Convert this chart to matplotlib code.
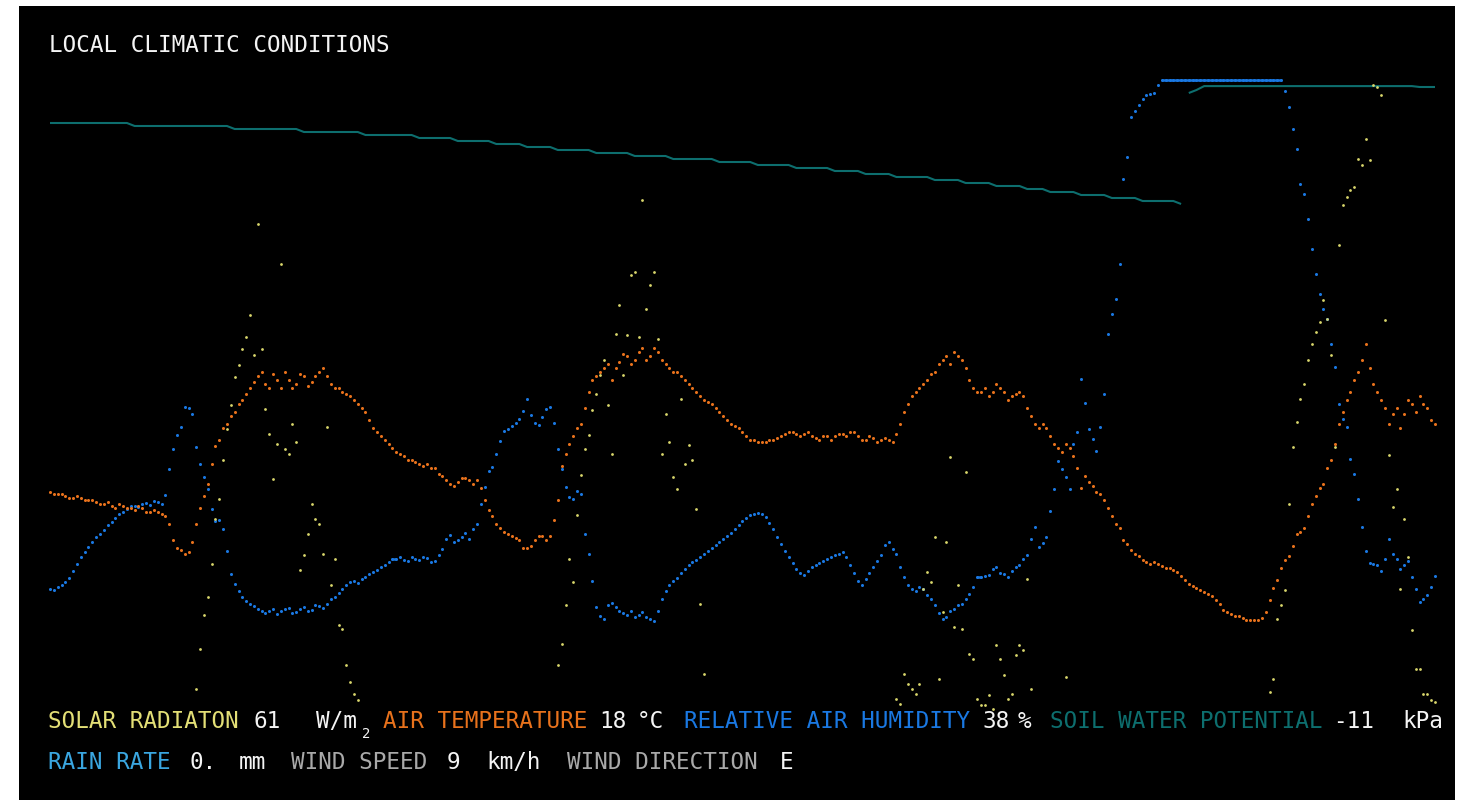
import numpy as np
import matplotlib
matplotlib.use("Agg")
import matplotlib.pyplot as plt
from matplotlib.collections import LineCollection

# Quarter-hourly weather-station samples (hours since start of the log)
hours = np.arange(361) * 0.25
# Soil probe logs every half hour
soil_hours = np.arange(181) * 0.5

# Solar radiation, W/m2 (0 at night)
solar_radiation = [
    0, 0, 0, 0, 0, 0, 0, 0, 0, 0,
    0, 0, 0, 0, 0, 0, 0, 0, 0, 0,
    0, 0, 0, 0, 0, 0, 0, 0, 0, 0,
    0, 0, 0, 0, 0, 0, 0, 0,
    # day 1
    69, 93, 113, 124, 144, 171, 183, 206, 225, 239,
    256, 263, 273, 280, 293, 269, 348, 273, 237, 222,
    195, 216, 324, 213, 210, 228, 217, 140, 149, 162,
    180, 171, 168, 150, 226, 131, 147, 107, 105, 83,
    73, 66, 62,
    # night
    0, 0, 0, 0, 0, 0, 0, 0, 0, 0,
    0, 0, 0, 0, 0, 0, 0, 0, 0, 0,
    0, 0, 0, 0, 0, 0, 0, 0, 0, 0,
    0, 0, 0, 0, 0, 0, 0, 0, 0, 0,
    0, 0, 0, 0, 0, 0, 0, 0, 0, 0,
    0,
    # day 2
    83, 96, 119, 147, 133, 173, 197, 213, 221, 236,
    246, 257, 266, 239, 210, 282, 299, 257, 281, 317,
    319, 280, 362, 297, 311, 319, 279, 210, 234, 217,
    196, 189, 243, 204, 215, 206, 177, 120, 78,
    # night
    0, 0, 0, 0, 0, 0, 0, 0, 0, 0,
    0, 0, 0, 0, 0, 0, 0, 0, 0, 0,
    0, 0, 0, 0, 0, 0, 0, 0, 0, 0,
    0, 0, 0, 0, 0, 0, 0, 0, 0, 0,
    0, 0, 0, 0, 0, 0, 0, 0, 0,
    # day 3 (overcast)
    63, 60, 78, 72, 69, 66, 72, 129, 139, 133,
    160, 75, 115, 157, 208, 106, 131, 105, 199, 90,
    87, 63, 59, 59, 65, 57, 95, 87, 77, 63,
    66, 89, 95, 92, 135, 69,
    0, 0, 0, 0, 0, 0, 0, 0,
    76,
    # night
    0, 0, 0, 0, 0, 0, 0, 0, 0, 0,
    0, 0, 0, 0, 0, 0, 0, 0, 0, 0,
    0, 0, 0, 0, 0, 0, 0, 0, 0, 0,
    0, 0, 0, 0, 0, 0, 0, 0, 0, 0,
    0, 0, 0, 0, 0, 0, 0, 0, 0, 0,
    0, 0,
    # day 4
    67, 75, 111, 119, 128, 180, 214, 229, 243, 252,
    266, 276, 283, 289, 302, 291, 269, 214, 335, 359,
    364, 368, 370, 387, 383, 399, 386, 431, 430, 425,
    290, 209, 178, 189, 129, 171, 148, 104, 81, 81,
    66, 66, 62, 61,
]

# Air temperature, degC
air_temperature = [
    14.6, 14.5, 14.5, 14.5, 14.4, 14.3, 14.3, 14.4, 14.3, 14.2,
    14.2, 14.2, 14.1, 14.0, 14.0, 14.1, 13.9, 13.8, 14.0, 13.9,
    13.8, 13.8, 13.7, 13.9, 13.8, 13.6, 13.6, 13.7, 13.6, 13.5,
    13.4, 13.0, 12.2, 11.8, 11.7, 11.5, 11.6, 12.1, 13.0, 13.8,
    14.4, 15.0, 16.0, 16.9, 17.2, 17.8, 18.0, 18.4, 18.6, 19.0,
    19.2, 19.5, 19.8, 20.1, 20.4, 20.6, 20.0, 19.8, 20.5, 20.2,
    19.8, 20.6, 20.2, 19.8, 20.0, 20.5, 20.4, 19.9, 20.1, 20.4,
    20.6, 20.8, 20.4, 20.0, 19.8, 19.8, 19.6, 19.5, 19.4, 19.2,
    19.0, 18.8, 18.6, 18.2, 17.8, 17.6, 17.4, 17.2, 17.0, 16.8,
    16.6, 16.5, 16.4, 16.2, 16.2, 16.1, 16.0, 15.9, 16.0, 15.8,
    15.8, 15.5, 15.4, 15.2, 15.0, 14.9, 15.1, 15.3, 15.3, 15.2,
    15.0, 15.2, 14.8, 14.2, 13.7, 13.4, 13.0, 12.8, 12.6, 12.5,
    12.4, 12.3, 12.2, 11.8, 11.8, 11.9, 12.2, 12.4, 12.4, 12.2,
    12.4, 13.2, 14.2, 15.9, 16.5, 17.0, 17.4, 17.8, 18.0, 18.8,
    19.6, 20.2, 20.4, 20.6, 20.8, 21.0, 20.2, 20.8, 21.1, 21.5,
    21.4, 21.0, 21.2, 21.6, 21.8, 21.2, 21.4, 21.8, 21.6, 21.2,
    21.0, 20.8, 20.6, 20.6, 20.4, 20.2, 20.0, 19.8, 19.6, 19.4,
    19.2, 19.1, 19.0, 18.8, 18.6, 18.4, 18.2, 18.0, 17.9, 17.8,
    17.6, 17.4, 17.2, 17.2, 17.1, 17.1, 17.1, 17.2, 17.2, 17.3,
    17.4, 17.5, 17.6, 17.6, 17.5, 17.4, 17.5, 17.6, 17.4, 17.3,
    17.2, 17.4, 17.4, 17.2, 17.4, 17.5, 17.5, 17.4, 17.6, 17.6,
    17.4, 17.2, 17.2, 17.4, 17.3, 17.1, 17.2, 17.3, 17.2, 17.1,
    17.5, 18.0, 18.6, 19.0, 19.4, 19.6, 19.8, 20.0, 20.2, 20.5,
    20.6, 21.0, 21.2, 21.4, 21.0, 21.6, 21.4, 21.2, 20.8, 20.2,
    19.8, 19.6, 19.6, 19.8, 19.4, 19.6, 20.0, 19.8, 19.6, 19.2,
    19.4, 19.5, 19.6, 19.4, 18.8, 18.4, 18.0, 17.8, 18.0, 17.8,
    17.4, 17.0, 16.8, 16.6, 17.0, 16.8, 16.4, 15.8, 14.8, 15.4,
    15.1, 14.9, 14.6, 14.5, 14.2, 13.8, 13.4, 13.0, 12.8, 12.2,
    12.0, 11.7, 11.5, 11.4, 11.2, 11.1, 11.0, 11.1, 11.0, 10.9,
    10.8, 10.8, 10.7, 10.6, 10.4, 10.2, 10.0, 9.9, 9.8, 9.7,
    9.6, 9.5, 9.4, 9.2, 9.0, 8.7, 8.6, 8.5, 8.4, 8.4,
    8.3, 8.2, 8.2, 8.2, 8.2, 8.3, 8.6, 9.2, 9.8, 10.2,
    10.8, 11.2, 11.4, 11.9, 12.5, 12.6, 12.8, 13.4, 14.0, 14.4,
    14.8, 15.0, 15.8, 16.2, 17.0, 18.0, 18.6, 19.2, 19.6, 20.2,
    20.6, 21.2, 22.0, 20.8, 20.0, 19.6, 19.2, 18.8, 18.0, 18.5,
    18.8, 17.8, 18.5, 19.2, 19.0, 18.6, 19.4, 19.0, 18.8, 18.2,
    18.0,
]

# Relative air humidity, %
relative_humidity = [
    36.4, 36.2, 36.6, 36.9, 37.2, 37.8, 38.6, 39.5, 40.4, 41.0,
    41.6, 42.3, 42.9, 43.2, 43.8, 44.4, 44.8, 45.2, 45.8, 46.0,
    46.4, 46.7, 46.8, 46.6, 47.0, 47.1, 46.9, 47.4, 47.2, 47.0,
    48.1, 51.4, 53.9, 55.6, 56.6, 59.1, 59.0, 58.2, 54.1, 52.0,
    50.4, 48.9, 46.4, 44.9, 45.0, 43.9, 41.1, 38.2, 37.0, 36.1,
    35.4, 34.9, 34.5, 34.2, 33.9, 33.6, 33.4, 33.6, 33.9, 33.2,
    33.6, 33.9, 34.0, 33.4, 33.5, 33.9, 34.1, 33.6, 33.8, 34.4,
    34.2, 34.0, 34.5, 35.1, 35.4, 35.9, 36.4, 36.9, 37.2, 37.4,
    37.1, 37.6, 37.9, 38.2, 38.5, 38.8, 39.1, 39.4, 39.8, 40.1,
    40.1, 40.4, 40.0, 39.9, 40.4, 40.1, 40.0, 40.4, 40.2, 39.8,
    39.9, 40.6, 41.4, 42.6, 43.1, 42.2, 42.5, 42.9, 43.4, 42.6,
    43.9, 44.5, 47.0, 49.1, 51.1, 51.6, 53.2, 54.9, 56.1, 56.4,
    56.8, 57.1, 57.6, 58.6, 60.1, 58.1, 57.1, 56.9, 57.9, 58.9,
    59.1, 57.1, 53.9, 51.4, 49.1, 47.9, 47.6, 48.6, 48.2, 43.2,
    40.8, 37.4, 34.1, 33.0, 32.6, 34.4, 34.6, 34.1, 33.6, 33.4,
    33.1, 33.6, 32.9, 33.1, 33.5, 32.9, 32.6, 32.4, 33.6, 35.1,
    36.1, 36.9, 37.4, 37.8, 38.4, 38.9, 39.4, 39.8, 40.0, 40.4,
    40.8, 41.1, 41.5, 41.9, 42.2, 42.6, 43.0, 43.4, 43.9, 44.4,
    44.9, 45.2, 45.6, 45.8, 45.9, 45.8, 45.4, 44.6, 43.9, 42.9,
    42.0, 41.1, 40.4, 39.6, 38.9, 38.4, 38.1, 38.6, 39.1, 39.4,
    39.6, 39.9, 40.1, 40.4, 40.6, 40.8, 41.0, 40.4, 39.4, 38.4,
    37.4, 36.9, 37.6, 38.4, 39.1, 39.9, 40.6, 41.9, 42.2, 41.4,
    40.8, 39.1, 37.9, 36.9, 36.4, 36.1, 36.6, 36.4, 35.6, 35.1,
    34.4, 33.4, 32.6, 32.9, 33.6, 33.9, 34.4, 34.5, 35.1, 35.8,
    36.6, 37.9, 37.9, 38.0, 38.1, 38.9, 39.1, 38.4, 38.2, 37.9,
    38.6, 39.1, 39.4, 40.1, 40.6, 42.6, 44.1, 41.6, 42.1, 42.9,
    46.1, 48.9, 52.4, 51.4, 50.4, 48.9, 54.5, 56.0, 62.6, 59.6,
    56.4, 55.1, 53.6, 56.6, 60.8, 68.2, 70.8, 72.6, 77.0, 87.6,
    90.4, 95.4, 96.1, 96.9, 97.6, 98.1, 98.2, 98.4, 99.4, 100,
    100, 100, 100, 100, 100, 100, 100, 100, 100, 100,
    100, 100, 100, 100, 100, 100, 100, 100, 100, 100,
    100, 100, 100, 100, 100, 100, 100, 100, 100, 100,
    100, 98.6, 96.6, 93.9, 91.4, 87.0, 85.8, 82.6, 78.9, 75.8,
    73.2, 71.4, 70.1, 67.0, 64.1, 59.5, 57.6, 56.6, 52.6, 50.8,
    47.6, 44.1, 41.1, 39.6, 39.5, 39.4, 38.6, 40.1, 42.6, 40.8,
    40.1, 38.9, 39.4, 39.9, 37.9, 36.4, 34.8, 35.1, 35.6, 36.6,
    38.0,
]

# Soil water potential, kPa
soil_water_potential = [
    -23, -23, -23, -23, -23, -23, -23, -23, -23, -23, -23,
    -24, -24, -24, -24, -24, -24, -24, -24, -24, -24, -24, -24, -24,
    -25, -25, -25, -25, -25, -25, -25, -25, -25,
    -26, -26, -26, -26, -26, -26, -26, -26,
    -27, -27, -27, -27, -27, -27, -27,
    -28, -28, -28, -28, -28,
    -29, -29, -29, -29, -29,
    -30, -30, -30, -30,
    -31, -31, -31, -31,
    -32, -32, -32, -32, -32,
    -33, -33, -33, -33, -33,
    -34, -34, -34, -34, -34,
    -35, -35, -35, -35, -35, -35,
    -36, -36, -36, -36, -36,
    -37, -37, -37, -37, -37,
    -38, -38, -38, -38, -38,
    -39, -39, -39, -39,
    -40, -40, -40, -40,
    -41, -41, -41, -41, -41,
    -42, -42, -42, -42,
    -43, -43, -43, -43,
    -44, -44, -44, -44,
    -45, -45, -45,
    -46, -46, -46, -46,
    -47, -47, -47, -47,
    -48, -48, -48, -48,
    -49, -49, -49, -49, -49,
    -50,
    -13, -12,
    -10.7, -10.7, -10.7, -10.7, -10.7, -10.7, -10.7, -10.7, -10.7, -10.7,
    -10.7, -10.7, -10.7, -10.7, -10.7, -10.7, -10.7, -10.7, -10.7, -10.7,
    -10.7, -10.7, -10.7, -10.7, -10.7, -10.7, -10.7, -10.7,
    -11, -11, -11,
]

# Current readings shown only as text
rain_rate = "0."
wind_speed = 9
wind_direction = "E"

# Colours
C_SOLAR = "#d9d66c"
C_SOLAR_TXT = "#e3df76"
C_TEMP = "#e8721c"
C_HUM = "#1a78e2"
C_SOIL = "#0d6e6e"
C_RAIN = "#3aa6e0"
C_WIND = "#a9a9a9"
C_VAL = "#f4f4f4"

W, H = 1465, 803
fig = plt.figure(figsize=(W / 100, H / 100), dpi=100, facecolor="white")


def fx(px):
    return px / W


def fy(py):
    return 1 - py / H


# Black display panel
left, top, right, bottom = 19, 7, 1455, 801
ax = fig.add_axes([fx(left), fy(bottom), (right - left) / W, (bottom - top) / H])
ax.set_facecolor("black")

px_per_hour = 1385 / 90.0
ax.set_xlim((left - 50) / px_per_hour, (right - 50) / px_per_hour)

ax_soil = ax
ax_hum = ax.twinx()
ax_temp = ax.twinx()
ax_sol = ax.twinx()

ax_soil.set_ylim(-248.67, 16.0)
ax_hum.set_ylim(10.0, 109.25)
ax_temp.set_ylim(-0.8, 38.9)
ax_sol.set_ylim(2.2, 478.6)

for a in (ax_soil, ax_hum, ax_temp, ax_sol):
    a.set_xticks([])
    a.set_yticks([])
    for s in a.spines.values():
        s.set_visible(False)

# Soil water potential: continuous trace, broken where the reading jumps
st = np.asarray(soil_hours, float)
sw = np.asarray(soil_water_potential, float)
cut = np.where(np.abs(np.diff(sw)) > 5)[0] + 1
ax_soil.plot(np.insert(st, cut, np.nan), np.insert(sw, cut, np.nan),
             color=C_SOIL, lw=1.5, solid_capstyle="butt")

t = np.asarray(hours, float)

# Relative humidity: dots, with a solid trace where the sensor sits on a constant value
rh = np.asarray(relative_humidity, float)
flat = np.where(np.isclose(np.diff(rh), 0))[0]
segs = [[(t[i], rh[i]), (t[i + 1], rh[i + 1])] for i in flat]
ax_hum.add_collection(LineCollection(segs, colors=C_HUM, linewidths=1.8))
ax_hum.plot(t, rh, ls="none", marker="o", ms=2.2, mew=0, color=C_HUM)

# Air temperature
ax_temp.plot(t, air_temperature, ls="none", marker="o", ms=2.2, mew=0, color=C_TEMP)

# Solar radiation
ax_sol.plot(t, solar_radiation, ls="none", marker="o", ms=2.0, mew=0, color=C_SOLAR)

# Title
FONT = "DejaVu Sans Mono"
FS = 16.3
fig.text(fx(49), fy(52), "LOCAL CLIMATIC CONDITIONS", color=C_VAL,
         family=FONT, fontsize=FS, va="baseline", ha="left")


def label(px, py, s, color, size=FS):
    fig.text(fx(px), fy(py), s, color=color, family=FONT, fontsize=size,
             va="baseline", ha="left")


# Current-value legend, first row
r1 = 728
label(48, r1, "SOLAR RADIATON", C_SOLAR_TXT)
label(254, r1, f"{solar_radiation[-1]:.0f}", C_VAL)
label(316, r1, "W/m", C_VAL)
label(362, 738, "2", C_VAL, size=10)
label(383, r1, "AIR TEMPERATURE", C_TEMP)
label(599, r1, f"{air_temperature[-1]:.0f}", C_VAL)
label(637, r1, "°C", C_VAL)
label(684, r1, "RELATIVE AIR HUMIDITY", C_HUM)
label(982, r1, f"{relative_humidity[-1]:.0f}", C_VAL)
label(1018, r1, "%", C_VAL)
label(1050, r1, "SOIL WATER POTENTIAL", C_SOIL)
label(1333, r1, f"{soil_water_potential[-1]:.0f}", C_VAL)
label(1402, r1, "kPa", C_VAL)

# Second row
r2 = 769
label(48, r2, "RAIN RATE", C_RAIN)
label(190, r2, rain_rate, C_VAL)
label(239, r2, "mm", C_VAL)
label(291, r2, "WIND SPEED", C_WIND)
label(447, r2, f"{wind_speed}", C_VAL)
label(486, r2, "km/h", C_VAL)
label(567, r2, "WIND DIRECTION", C_WIND)
label(780, r2, wind_direction, C_VAL)

fig.savefig("out.png", dpi=100, facecolor="white")
